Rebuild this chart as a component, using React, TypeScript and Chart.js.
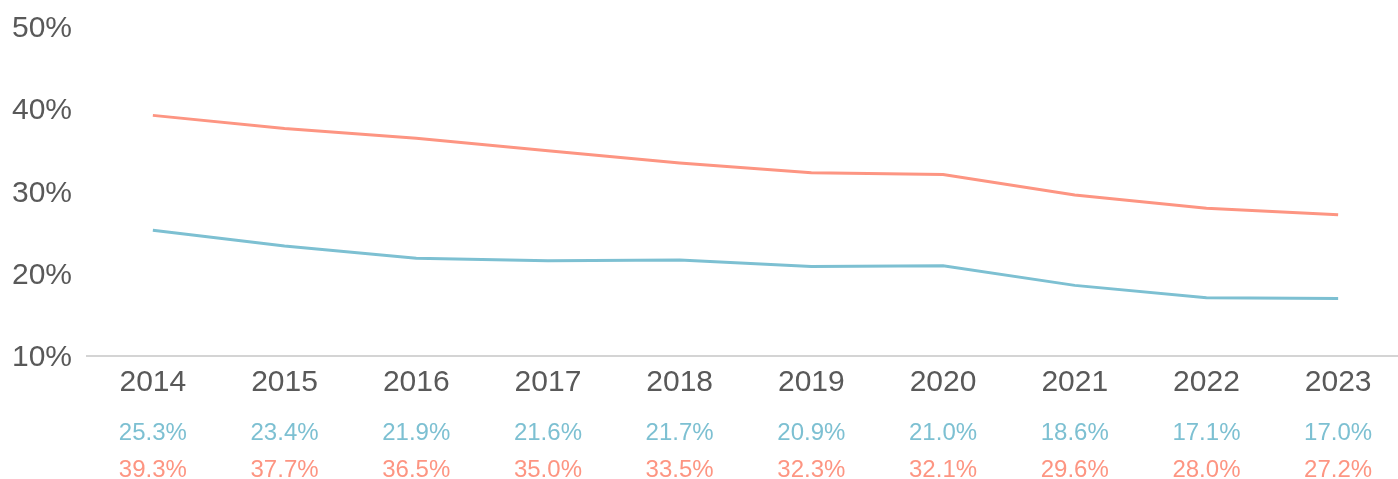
import React, { useEffect, useRef } from "react";
import { Chart, registerables } from "chart.js";

Chart.register(...registerables);

const years = ["2014", "2015", "2016", "2017", "2018", "2019", "2020", "2021", "2022", "2023"];
const blueValues = [25.3, 23.4, 21.9, 21.6, 21.7, 20.9, 21.0, 18.6, 17.1, 17.0];
const salmonValues = [39.3, 37.7, 36.5, 35.0, 33.5, 32.3, 32.1, 29.6, 28.0, 27.2];
const yTicks = [10, 20, 30, 40, 50];

const BLUE = "#7dc0d2";
const SALMON = "#fd9582";
const TEXT = "#595959";
const FONT = "'Liberation Sans', Arial, sans-serif";

const CANVAS_W = 1420;
const CANVAS_H = 479;

export default function App() {
  const ref = useRef<HTMLCanvasElement | null>(null);

  useEffect(() => {
    const canvas = ref.current;
    if (!canvas) return;

    const labelRows = {
      id: "labelRows",
      afterDraw(chart: any) {
        const { ctx, chartArea, scales } = chart;
        const x = scales.x;
        ctx.save();
        ctx.font = `24px ${FONT}`;
        ctx.textAlign = "center";
        ctx.textBaseline = "middle";
        years.forEach((_, i) => {
          const px = x.getPixelForValue(i);
          ctx.fillStyle = BLUE;
          ctx.fillText(blueValues[i].toFixed(1) + "%", px, chartArea.bottom + 77);
          ctx.fillStyle = SALMON;
          ctx.fillText(salmonValues[i].toFixed(1) + "%", px, chartArea.bottom + 114);
        });
        ctx.restore();
      },
    };

    const chart = new Chart(canvas, {
      type: "line",
      data: {
        labels: years,
        datasets: [
          {
            data: salmonValues,
            borderColor: SALMON,
            borderWidth: 3,
            pointRadius: 0,
            tension: 0,
            fill: false,
          },
          {
            data: blueValues,
            borderColor: BLUE,
            borderWidth: 3,
            pointRadius: 0,
            tension: 0,
            fill: false,
          },
        ],
      },
      options: {
        responsive: false,
        animation: false,
        layout: { padding: { top: 27.5, right: 16, left: 0, bottom: 0 } },
        plugins: {
          legend: { display: false },
          tooltip: { enabled: false },
        },
        scales: {
          x: {
            type: "category",
            offset: true,
            grid: { display: false, drawTicks: false },
            border: { display: true, color: "#d4d4d4", width: 2 },
            ticks: {
              color: TEXT,
              font: { family: FONT, size: 30 },
              padding: 9,
              maxRotation: 0,
              autoSkip: false,
            },
            afterFit: (scale: any) => {
              scale.height = CANVAS_H - 356;
            },
          },
          y: {
            min: 10,
            max: 50,
            afterBuildTicks: (scale: any) => {
              scale.ticks = yTicks.map((v) => ({ value: v }));
            },
            grid: { display: false, drawTicks: false },
            border: { display: false },
            ticks: {
              color: TEXT,
              font: { family: FONT, size: 30 },
              padding: 15,
              labelOffset: 1.5,
              callback: (v: any) => v + "%",
            },
            afterFit: (scale: any) => {
              scale.width = 87;
              scale.paddingTop = 0;
              scale.paddingBottom = 0;
            },
          },
        },
      },
      plugins: [labelRows],
    });

    return () => chart.destroy();
  }, []);

  return (
    <div
      style={{
        position: "fixed",
        left: 0,
        top: 0,
        width: 1398,
        height: 479,
        overflow: "hidden",
        background: "#ffffff",
      }}
    >
      <canvas
        ref={ref}
        width={CANVAS_W}
        height={CANVAS_H}
        style={{ width: CANVAS_W, height: CANVAS_H, display: "block" }}
      />
    </div>
  );
}
